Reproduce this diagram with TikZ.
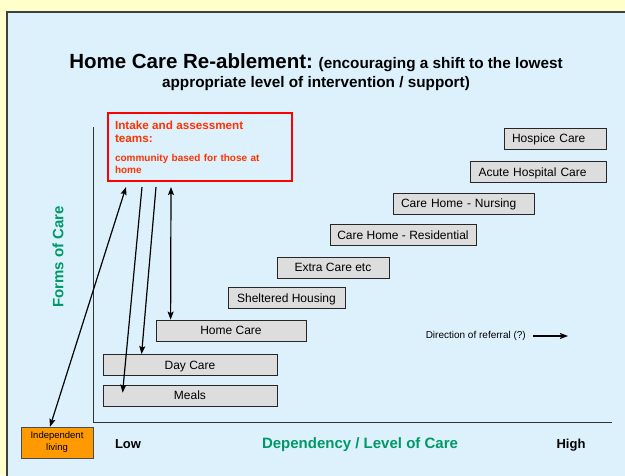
\documentclass[tikz,border=0pt]{standalone}
\usepackage{fontspec}
\setmainfont{Liberation Sans}
\usetikzlibrary{arrows.meta}
\definecolor{slideyellow}{HTML}{FFFFCC}
\definecolor{slideblue}{HTML}{DDF1FD}
\definecolor{boxgray}{HTML}{DDDDDD}
\definecolor{intakered}{HTML}{FF0000}
\definecolor{intaketext}{HTML}{FF3300}
\definecolor{axisgreen}{HTML}{009966}
\definecolor{livingorange}{HTML}{FF9900}

\begin{document}
\begin{tikzpicture}[x=1pt,y=-1pt,
carebox/.style={draw=black!85, line width=0.8pt, fill=boxgray, minimum height=21pt, inner sep=0pt,
  text height=8.6pt, text depth=0pt, font=\fontsize{12}{14}\selectfont},
leftbox/.style={carebox, text width=#1, align=left, inner xsep=8pt},
axislabel/.style={font=\bfseries\fontsize{15}{18}\selectfont, text=axisgreen},
endlabel/.style={font=\bfseries\fontsize{13}{15}\selectfont, anchor=base}]

\tikzset{carearrow/.style={->, >={Stealth[length=8pt,width=6pt,inset=1.5pt]}, line width=1.2pt},
  twoway/.style={carearrow, <->}}

\useasboundingbox (0,0) rectangle (625,475);
\fill[slideyellow] (0,0) rectangle (625,475);
\draw[fill=slideblue, draw=black!75, line width=1.5pt] (7,12) rectangle (640,490);

\node (title) [anchor=north, align=center, inner sep=0pt, font=\bfseries\fontsize{15.3}{19}\selectfont] at (316,53)
  {{\fontsize{20.5}{24}\selectfont Home Care Re-ablement:} (encouraging a shift to the lowest\\appropriate level of intervention / support)};

\node (intake) [draw=intakered, line width=1.5pt, outer sep=0pt, anchor=north west, text width=170pt, minimum height=68pt,
  inner xsep=7pt, inner ysep=0pt, align=left, text=intaketext, font=\bfseries] at (108,113)
  {\fontsize{11.7}{13}\selectfont Intake and assessment\\teams:\par\vspace{7pt}\fontsize{10}{12}\selectfont community based for those at\\home};

\coordinate (ytop) at (93,127);
\coordinate (origin) at (93,422);
\coordinate (xend) at (612,422);
\draw[line width=0.8pt, black!80] (ytop) -- (origin) -- (xend);

\node (meals) [carebox, minimum width=174pt] at (190,395.5) {Meals};
\node (daycare) [carebox, minimum width=174pt] at (190,365) {Day Care};
\node (homecare) [carebox, minimum width=150pt] at (231,330.5) {Home Care};
\node (sheltered) [carebox, minimum width=117pt] at (286.5,298) {Sheltered Housing};
\node (extracare) [carebox, minimum width=112pt] at (333,267.5) {Extra Care etc};
\node (residential) [carebox, minimum width=146pt] at (403,235) {Care Home - Residential};
\node (nursing) [leftbox=125pt] at (463.5,203.5) {Care Home - Nursing};
\node (acute) [leftbox=120pt] at (538.5,172) {Acute Hospital Care};
\node (hospice) [leftbox=86pt] at (555,138.5) {Hospice Care};

\node (living) [draw=black!70, fill=livingorange, minimum width=72pt, minimum height=31pt, inner sep=0pt, align=center,
  font=\fontsize{9.5}{12}\selectfont] at (57,442.5) {Independent\\living};

\node (forms) [axislabel, rotate=90] at (58,257) {Forms of Care};
\node (level) [axislabel, anchor=base] at (360,448) {Dependency / Level of Care};
\node (low) [endlabel] at (128,448) {Low};
\node (high) [endlabel] at (571,448) {High};

\node (referral) [anchor=east, inner sep=2pt, font=\fontsize{10}{12}\selectfont] at (528,336) {Direction of referral (?)};
\coordinate (referralend) at (568,336);
\draw[carearrow] ([xshift=5pt]referral.east) -- (referralend);

\draw[twoway] ([xshift=-7pt]living.north) -- ([xshift=18pt,yshift=-6pt]intake.south west);
\draw[carearrow] ([xshift=34pt,yshift=-6pt]intake.south west) -- ([xshift=20pt,yshift=-8pt]meals.north west);
\draw[carearrow] ([xshift=48pt,yshift=-6pt]intake.south west) -- ([xshift=39pt]daycare.north west);
\draw[twoway] ([xshift=63pt,yshift=-6pt]intake.south west) -- ([xshift=15pt]homecare.north west);

\end{tikzpicture}
\end{document}
